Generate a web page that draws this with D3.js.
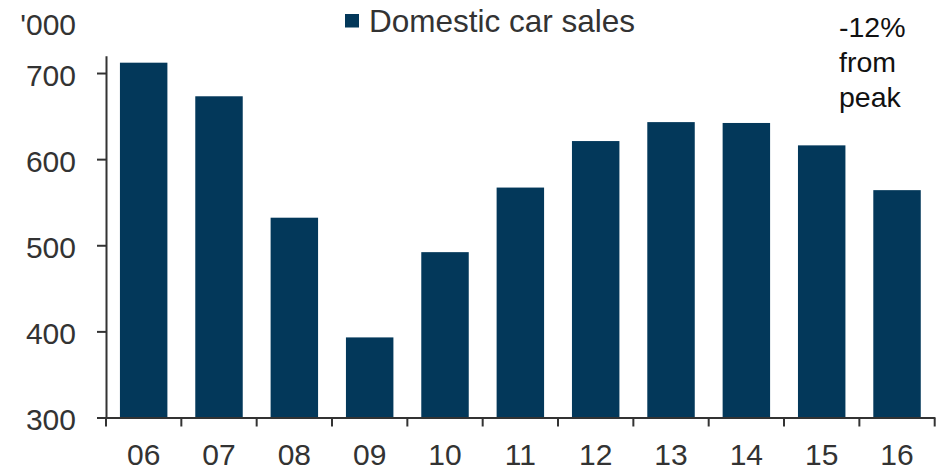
<!DOCTYPE html>
<html>
<head>
<meta charset="utf-8">
<script src="https://cdn.jsdelivr.net/npm/d3@7"></script>
<style>
  html, body { margin: 0; padding: 0; background: #fff; }
  svg { display: block; font-family: "Liberation Sans", Arial, sans-serif; }
</style>
</head>
<body>
<svg id="chart" width="945" height="471"></svg>
<script>
// Domestic car sales, thousands of units, by year
const years = ["06", "07", "08", "09", "10", "11", "12", "13", "14", "15", "16"];
const sales = [712, 673, 532, 393, 492, 567, 621, 643, 642, 616, 564];
const yTicks = [300, 400, 500, 600, 700];
const unitLabel = "'000";
const seriesName = "Domestic car sales";
const noteLines = ["-12%", "from", "peak"];

const barColor = "#03385a";
const axisColor = "#333333";
const textColor = "#333333";

const svg = d3.select("#chart");

const x = d3.scaleBand()
  .domain(years)
  .range([106, 934.7])
  .paddingInner(0.37)
  .paddingOuter(0.185);

const y = d3.scaleLinear()
  .domain([300, 720])
  .range([417.5, 55.8]);

// Bars
svg.append("g")
  .selectAll("rect")
  .data(years)
  .join("rect")
  .attr("x", d => x(d))
  .attr("width", x.bandwidth())
  .attr("y", (d, i) => y(sales[i]))
  .attr("height", (d, i) => y(300) - y(sales[i]))
  .attr("fill", barColor);

// Y axis
const yAxis = svg.append("g")
  .attr("transform", `translate(${x.range()[0]},0)`)
  .call(d3.axisLeft(y).tickValues(yTicks).tickSize(9).tickSizeOuter(0).tickPadding(21));
yAxis.select(".domain").attr("stroke", axisColor).attr("stroke-width", 2);
yAxis.selectAll(".tick line").attr("stroke", axisColor).attr("stroke-width", 2);
yAxis.selectAll(".tick text")
  .attr("font-size", 30)
  .attr("font-family", "Liberation Sans, Arial, sans-serif")
  .attr("fill", textColor)
  .attr("dy", "0.4em");

// X axis: labels centred in each band, ticks at band boundaries
const xAxis = svg.append("g")
  .attr("transform", `translate(0,${y(300)})`)
  .call(d3.axisBottom(x).tickSize(0).tickPadding(26.5));
xAxis.select(".domain").attr("stroke", axisColor).attr("stroke-width", 2);
xAxis.selectAll(".tick text")
  .attr("font-size", 30)
  .attr("font-family", "Liberation Sans, Arial, sans-serif")
  .attr("fill", textColor);

const gap = (x.step() - x.bandwidth()) / 2;
const boundaries = years.map(d => x(d) - gap).concat([x.range()[1]]);
xAxis.append("g")
  .selectAll("line")
  .data(boundaries)
  .join("line")
  .attr("x1", d => d)
  .attr("x2", d => d)
  .attr("y1", 0)
  .attr("y2", 9)
  .attr("stroke", axisColor)
  .attr("stroke-width", 2);

// Unit label
svg.append("text")
  .attr("x", 76)
  .attr("y", 35)
  .attr("text-anchor", "end")
  .attr("font-size", 30)
  .attr("fill", textColor)
  .text(unitLabel);

// Legend
svg.append("rect")
  .attr("x", 345)
  .attr("y", 14)
  .attr("width", 14)
  .attr("height", 13.5)
  .attr("fill", barColor);
svg.append("text")
  .attr("x", 369)
  .attr("y", 31.5)
  .attr("font-size", 31.5)
  .attr("fill", textColor)
  .text(seriesName);

// Note on the decline from the peak year
svg.append("g")
  .selectAll("text")
  .data(noteLines)
  .join("text")
  .attr("x", 839)
  .attr("y", (d, i) => 36.5 + i * 35)
  .attr("font-size", 28.5)
  .attr("fill", "#111")
  .text(d => d);
</script>
</body>
</html>
